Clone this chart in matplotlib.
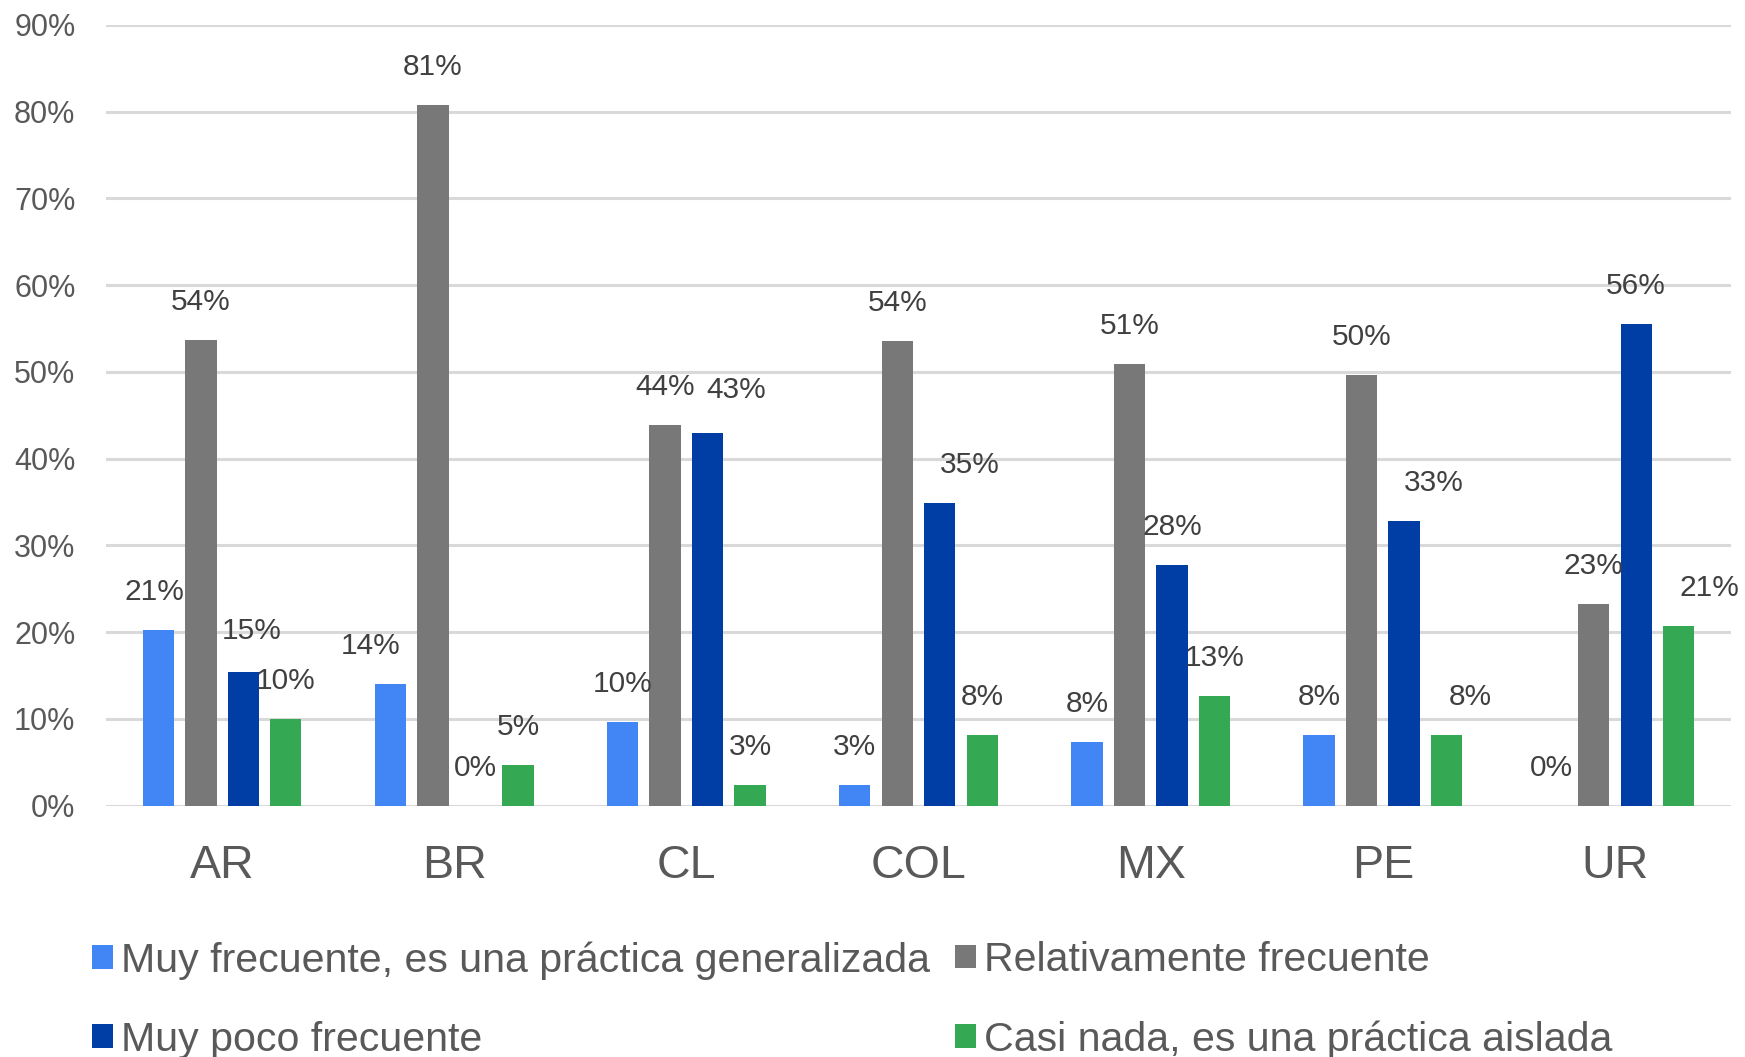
import matplotlib
matplotlib.use("Agg")
import matplotlib.pyplot as plt
from matplotlib.patches import Patch
import numpy as np

plt.rcParams['font.family'] = ['Liberation Sans', 'DejaVu Sans']

categories = ["AR", "BR", "CL", "COL", "MX", "PE", "UR"]
series_names = ["Muy frecuente, es una práctica generalizada",
                "Relativamente frecuente",
                "Muy poco frecuente",
                "Casi nada, es una práctica aislada"]

muy_frecuente = [20.2, 14.0, 9.6, 2.4, 7.3, 8.2, 0.0]
relativamente = [53.7, 80.8, 43.9, 53.6, 50.9, 49.7, 23.3]
muy_poco = [15.4, 0.0, 43.0, 34.9, 27.7, 32.8, 55.5]
casi_nada = [10.0, 4.65, 2.4, 8.2, 12.7, 8.2, 20.7]

labels_muy_frecuente = ["21%", "14%", "10%", "3%", "8%", "8%", "0%"]
labels_relativamente = ["54%", "81%", "44%", "54%", "51%", "50%", "23%"]
labels_muy_poco = ["15%", "0%", "43%", "35%", "28%", "33%", "56%"]
labels_casi_nada = ["10%", "5%", "3%", "8%", "13%", "8%", "21%"]

yticks = [0, 10, 20, 30, 40, 50, 60, 70, 80, 90]
ytick_labels = ["0%", "10%", "20%", "30%", "40%", "50%", "60%", "70%", "80%", "90%"]

colors = ["#4285F4", "#787878", "#003DA5", "#34A853"]

# label nudges in pixels (series index, category index) -> (dx, dy)
nudges = {(0, 0): (-4, 0), (2, 0): (8, 3), (0, 1): (-20, 0),
          (2, 2): (29, 5), (2, 3): (30, 0), (2, 5): (30, 0),
          (3, 5): (24, 0), (3, 6): (31, 0)}

all_vals = [muy_frecuente, relativamente, muy_poco, casi_nada]
all_labels = [labels_muy_frecuente, labels_relativamente, labels_muy_poco, labels_casi_nada]

W, H = 1745, 1057
fig = plt.figure(figsize=(W / 100, H / 100), dpi=100)
ax = fig.add_axes([106 / W, 1 - 805.7 / H, (1731 - 106) / W, (805.7 - 25) / H])

x = np.arange(len(categories))
step = 0.183
width = 0.135
handles = []
for j, (vals, labs) in enumerate(zip(all_vals, all_labels)):
    pos = x + (j - 1.5) * step
    ax.bar(pos, vals, width=width, color=colors[j], zorder=3)
    handles.append(Patch(facecolor=colors[j], edgecolor='none', label=series_names[j]))
    for i, (p, v, t) in enumerate(zip(pos, vals, labs)):
        dx, dy = nudges.get((j, i), (0, 0))
        ax.annotate(t, (p, v), xytext=(dx, 38 + dy), textcoords='offset pixels',
                    ha='center', va='center', fontsize=21.5, color='#404040', zorder=4)

ax.set_xlim(-0.5, len(categories) - 0.5)
ax.set_ylim(0, 90)
ax.set_yticks(yticks)
ax.set_yticklabels(ytick_labels)
ax.set_xticks(x)
ax.set_xticklabels(categories)
ax.tick_params(axis='y', length=0, pad=22, labelsize=22, labelcolor='#595959')
ax.tick_params(axis='x', length=0, pad=27.5, labelsize=33.5, labelcolor='#595959')
ax.grid(axis='y', color='#D9D9D9', linewidth=2.2, zorder=0)
ax.set_axisbelow(True)
for s in ax.spines.values():
    s.set_visible(False)
ax.patch.set_visible(False)

leg_kw = dict(loc='upper left', frameon=False, fontsize=29.6, handlelength=0.5,
              handleheight=0.5, handletextpad=0.2, labelspacing=1.0,
              borderpad=0, borderaxespad=0, labelcolor='#595959')
leg1 = fig.legend(handles=[handles[0], handles[2]],
                  bbox_to_anchor=(92 / W, 1 - 941 / H), **leg_kw)
leg2 = fig.legend(handles=[handles[1], handles[3]],
                  bbox_to_anchor=(955 / W, 1 - 941 / H), **leg_kw)

fig.savefig("out.png", dpi=100)
